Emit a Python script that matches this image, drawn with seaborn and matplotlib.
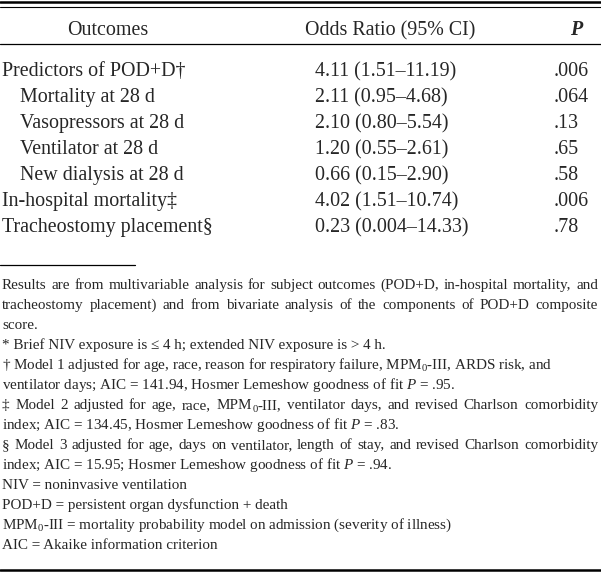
import matplotlib
matplotlib.use("Agg")
import matplotlib.pyplot as plt
import seaborn as sns

# table content
outcomes = ["Predictors of POD+D\u2020", "Mortality at 28 d", "Vasopressors at 28 d",
            "Ventilator at 28 d", "New dialysis at 28 d", "In-hospital mortality\u2021",
            "Tracheostomy placement\u00a7"]
indented = [False, True, True, True, True, False, False]
odds_ratio = ["4.11 (1.51\u201311.19)", "2.11 (0.95\u20134.68)", "2.10 (0.80\u20135.54)",
              "1.20 (0.55\u20132.61)", "0.66 (0.15\u20132.90)", "4.02 (1.51\u201310.74)",
              "0.23 (0.004\u201314.33)"]
p_values = [".006", ".064", ".13", ".65", ".58", ".006", ".78"]
headers = ["Outcomes", "Odds Ratio (95% CI)", "$\\mathbf{P}$"]

footnotes = [
    "Results are from multivariable analysis for subject outcomes (POD+D, in-hospital mortality, and",
    "tracheostomy placement) and from bivariate analysis of the components of POD+D composite",
    "score.",
    "* Brief NIV exposure is \u2264 4 h; extended NIV exposure is > 4 h.",
    "\u2020 Model 1 adjusted for age, race, reason for respiratory failure, MPM$_0$-III, ARDS risk, and",
    "ventilator days; AIC = 141.94, Hosmer Lemeshow goodness of fit $P$ = .95.",
    "\u2021 Model 2 adjusted for age, race, MPM$_0$-III, ventilator days, and revised Charlson comorbidity",
    "index; AIC = 134.45, Hosmer Lemeshow goodness of fit $P$ = .83.",
    "\u00a7 Model 3 adjusted for age, days on ventilator, length of stay, and revised Charlson comorbidity",
    "index; AIC = 15.95; Hosmer Lemeshow goodness of fit $P$ = .94.",
    "NIV = noninvasive ventilation",
    "POD+D = persistent organ dysfunction + death",
    "MPM$_0$-III = mortality probability model on admission (severity of illness)",
    "AIC = Akaike information criterion",
]
# lines that are set full-width (justified) in the original
justified = [True, True, False, False, False, False, True, False, True, False,
             False, False, False, False]

sns.set_theme(style="white")
plt.rcParams["font.family"] = ["Liberation Serif", "DejaVu Serif"]
plt.rcParams["mathtext.fontset"] = "custom"
plt.rcParams["mathtext.rm"] = "Liberation Serif"
plt.rcParams["mathtext.it"] = "Liberation Serif:italic"
plt.rcParams["mathtext.bf"] = "Liberation Serif:bold:italic"

W, H = 601, 574
fig = plt.figure(figsize=(W / 100, H / 100), dpi=100)
ax = fig.add_axes([0, 0, 1, 1])
ax.set_xlim(0, W)
ax.set_ylim(H, 0)
ax.axis("off")
renderer = fig.canvas.get_renderer()

big = 14.4   # ~20 px
small = 10.9


def word_pieces(word, y, fs):
    # plain text pieces of one word; a "$_0$" becomes a small lowered 0
    pieces = []
    parts = word.split("$_0$")
    for k, part in enumerate(parts):
        if part:
            pieces.append(ax.text(0, y, part, fontsize=fs, va="baseline"))
        if k < len(parts) - 1:
            pieces.append(ax.text(0, y + 3, "0", fontsize=fs * 0.7, va="baseline"))
    widths = [p.get_window_extent(renderer).width for p in pieces]
    return pieces, widths


def justify_line(x0, x1, y, line, fs):
    # spread the words so the line fills x0..x1
    words = [word_pieces(w, y, fs) for w in line.split(" ")]
    total = sum(sum(ws) for _, ws in words)
    gap = (x1 - x0 - total) / (len(words) - 1)
    x = x0
    for pieces, widths in words:
        for p, w in zip(pieces, widths):
            p.set_x(x)
            x += w
        x += gap


# rules
ax.plot([0, W], [2, 2], color="black", lw=1.8)
ax.plot([0, W], [7, 7], color="black", lw=0.8)
ax.plot([0, W], [44, 44], color="black", lw=0.9)
ax.plot([0, 135], [265, 265], color="black", lw=0.9)
ax.plot([0, W], [570, 570], color="black", lw=1.8)

# header
ax.text(108, 35, headers[0], fontsize=big, ha="center", va="baseline")
ax.text(390, 35, headers[1], fontsize=big, ha="center", va="baseline")
ax.text(577, 35, headers[2], fontsize=big, ha="center", va="baseline")

# body rows
for i, (lab, orr, p) in enumerate(zip(outcomes, odds_ratio, p_values)):
    y = 76 + i * 26
    ax.text(20 if indented[i] else 2, y, lab, fontsize=big, va="baseline")
    ax.text(315, y, orr, fontsize=big, va="baseline")
    ax.text(554, y, p, fontsize=big, va="baseline")

# footnotes
for j, line in enumerate(footnotes):
    y = 289 + j * 20
    if justified[j]:
        justify_line(2, 598, y, line, small)
    else:
        ax.text(2, y, line, fontsize=small, va="baseline")

fig.savefig("out.png", dpi=100)
